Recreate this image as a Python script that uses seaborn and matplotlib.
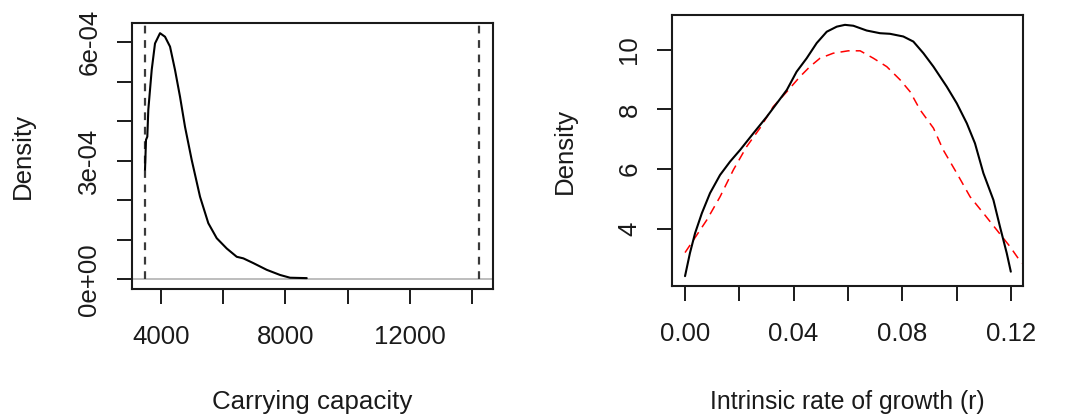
import matplotlib
matplotlib.use("Agg")
import matplotlib.pyplot as plt
import seaborn as sns
import pandas as pd

# ---- data ----
k_x = [3496, 3528, 3570, 3602, 3711, 3817, 3978, 4138, 4299, 4459, 4620, 4780,
       4995, 5262, 5528, 5798, 6119, 6440, 6652, 6973, 7403, 7830, 8151, 8687]
k_density = [2.77e-4, 3.53e-4, 3.61e-4, 4.29e-4, 5.30e-4, 5.97e-4, 6.23e-4, 6.14e-4,
             5.89e-4, 5.30e-4, 4.62e-4, 3.86e-4, 3.02e-4, 2.09e-4, 1.42e-4, 1.04e-4,
             0.78e-4, 0.57e-4, 0.53e-4, 0.41e-4, 0.24e-4, 0.11e-4, 0.04e-4, 0.03e-4]
k_bounds = [3500, 14215]

r_x = [0.0, 0.0018, 0.0037, 0.0062, 0.0092, 0.0129, 0.0166, 0.0203, 0.0252, 0.0301,
       0.0338, 0.0375, 0.0411, 0.0448, 0.0485, 0.0522, 0.0559, 0.0589, 0.0620, 0.0669,
       0.0718, 0.0755, 0.0804, 0.0841, 0.0878, 0.0915, 0.0964, 0.1001, 0.1038, 0.1068,
       0.1099, 0.1136, 0.1160, 0.1185, 0.1200]
r_post = [2.41, 3.18, 3.85, 4.52, 5.19, 5.80, 6.25, 6.64, 7.20, 7.75,
          8.20, 8.65, 9.26, 9.71, 10.22, 10.60, 10.77, 10.83, 10.80, 10.64,
          10.55, 10.53, 10.44, 10.27, 9.88, 9.43, 8.76, 8.20, 7.53, 6.86,
          5.86, 4.96, 4.07, 3.18, 2.56]

r_prior_x = [0.0, 0.0031, 0.0080, 0.0129, 0.0178, 0.0227, 0.0276, 0.0325, 0.0375, 0.0424,
             0.0460, 0.0497, 0.0546, 0.0601, 0.0645, 0.0694, 0.0743, 0.0792, 0.0829, 0.0866,
             0.0915, 0.0951, 0.1001, 0.1050, 0.1099, 0.1148, 0.1197, 0.1240]
r_prior = [3.20, 3.62, 4.29, 5.07, 5.97, 6.75, 7.37, 8.09, 8.59, 9.10,
           9.43, 9.71, 9.88, 9.96, 9.96, 9.71, 9.43, 8.99, 8.59, 7.98,
           7.37, 6.64, 5.86, 5.07, 4.52, 3.96, 3.40, 2.84]

k_xticks = [4000, 6000, 8000, 10000, 12000, 14000]
k_xticklabels = ["4000", "", "8000", "", "12000", ""]
k_yticks = [0, 1e-4, 2e-4, 3e-4, 4e-4, 5e-4, 6e-4]
k_yticklabels = ["0e+00", "", "", "3e-04", "", "", "6e-04"]
r_xticks = [0.0, 0.02, 0.04, 0.06, 0.08, 0.10, 0.12]
r_xticklabels = ["0.00", "", "0.04", "", "0.08", "", "0.12"]
r_yticks = [4, 6, 8, 10]
r_yticklabels = ["4", "6", "8", "10"]

sns.set_theme(style="ticks")
plt.rcParams["font.family"] = ["Liberation Sans", "DejaVu Sans"]
FS = 18.6
plt.rcParams["font.size"] = FS

W, H = 1065, 420
fig = plt.figure(figsize=(W / 100, H / 100), dpi=100)

def px_axes(l, t, r, b):
    return fig.add_axes([l / W, 1 - b / H, (r - l) / W, (b - t) / H])

ax1 = px_axes(131.7, 23.3, 492.7, 289.3)
ax2 = px_axes(672, 15, 1023.3, 286)

# ---- left panel ----
ax1.axhline(0, color="#bdbdbd", lw=1.4, zorder=1)
ax1.vlines(k_bounds, 0, 6.48e-4, colors="#3a3a3a", linestyles=(0, (3.5, 3.0)), lw=1.6, zorder=2)
sns.lineplot(x=k_x, y=k_density, ax=ax1, color="black", lw=1.5, sort=False,
             estimator=None, zorder=3)
ax1.set_xlim(3069, 14655)
ax1.set_ylim(-0.253e-4, 6.48e-4)
ax1.set_xticks(k_xticks)
ax1.set_xticklabels(k_xticklabels)
ax1.set_yticks(k_yticks)
ax1.set_yticklabels(k_yticklabels, rotation=90, va="center")
ax1.set_xlabel("Carrying capacity")
ax1.set_ylabel("Density")

# ---- right panel ----
sns.lineplot(x=r_prior_x, y=r_prior, ax=ax2, color="#ff0000", lw=1.1, sort=False,
             estimator=None, zorder=2)
ax2.lines[-1].set_linestyle((0, (6, 4)))
sns.lineplot(x=r_x, y=r_post, ax=ax2, color="black", lw=1.5, sort=False,
             estimator=None, zorder=3)
ax2.set_xlim(-0.0048, 0.1246)
ax2.set_ylim(2.08, 11.16)
ax2.set_xticks(r_xticks)
ax2.set_xticklabels(r_xticklabels)
ax2.set_yticks(r_yticks)
ax2.set_yticklabels(r_yticklabels, rotation=90, va="center")
ax2.set_xlabel("Intrinsic rate of growth (r)")
ax2.set_ylabel("Density")

for ax, ylx, xly, xfs in [(ax1, -0.3025, -0.4226, FS), (ax2, -0.3046, -0.427, 17.8)]:
    for s in ax.spines.values():
        s.set_visible(True)
        s.set_color("#1a1a1a")
        s.set_linewidth(1.5)
    ax.tick_params(axis="both", direction="out", length=10.5, width=1.4,
                   color="#1a1a1a", labelsize=FS, labelcolor="#1a1a1a")
    ax.tick_params(axis="x", pad=15.5)
    ax.tick_params(axis="y", pad=11.5)
    ax.xaxis.label.set_size(xfs)
    ax.yaxis.label.set_size(FS)
    ax.xaxis.label.set_color("#1a1a1a")
    ax.yaxis.label.set_color("#1a1a1a")
    ax.yaxis.set_label_coords(ylx, 0.5)
    ax.yaxis.label.set_verticalalignment("center")
    ax.xaxis.set_label_coords(0.5, xly)
    ax.xaxis.label.set_verticalalignment("center")
    if ax.get_legend() is not None:
        ax.get_legend().remove()

fig.savefig("out.png", dpi=100)
